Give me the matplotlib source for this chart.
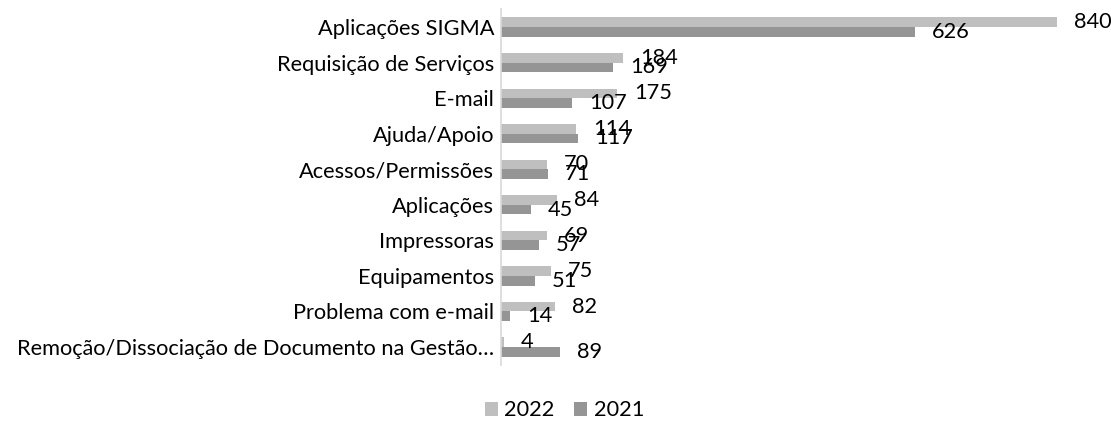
import matplotlib
matplotlib.use('Agg')
import matplotlib.pyplot as plt
import numpy as np

plt.rcParams['font.family'] = ['Lato', 'DejaVu Sans']

categories = ['Aplicações SIGMA', 'Requisição de Serviços', 'E-mail', 'Ajuda/Apoio',
              'Acessos/Permissões', 'Aplicações', 'Impressoras', 'Equipamentos',
              'Problema com e-mail', 'Remoção/Dissociação de Documento na Gestão…']
values2022 = [840, 184, 175, 114, 70, 84, 69, 75, 82, 4]
values2021 = [626, 169, 107, 117, 71, 45, 57, 51, 14, 89]
series = ['2022', '2021']

color2022 = '#BFBFBF'
color2021 = '#959595'
fs = 15.7

fig = plt.figure(figsize=(11.11, 4.23), dpi=100)
ax = fig.add_axes([0.451, 0.1376, 0.5, 0.8406])

y = np.arange(len(categories))
h = 0.27
b1 = ax.barh(y - h/2, values2022, height=h, color=color2022, label=series[0])
b2 = ax.barh(y + h/2, values2021, height=h, color=color2021, label=series[1])

# data labels sit right of the bar end, like the spreadsheet does (they overlap there too)
for bars, vals in ((b1, values2022), (b2, values2021)):
    for bar, v in zip(bars, vals):
        ax.annotate(str(v), (bar.get_width(), bar.get_y() + bar.get_height()/2),
                    xytext=(17, 0), textcoords='offset pixels',
                    ha='left', va='center', fontsize=fs, color='#000000',
                    annotation_clip=False)

ax.set_xlim(0, 840)
ax.set_ylim(len(categories) - 0.5, -0.5)
ax.set_yticks(y)
ax.set_yticklabels(categories, fontsize=fs)
ax.tick_params(axis='y', length=0, pad=5)
ax.set_xticks([])
for s in ['top', 'right', 'bottom']:
    ax.spines[s].set_visible(False)
ax.spines['left'].set_color('#D9D9D9')
ax.spines['left'].set_linewidth(1.2)

fig.legend(handles=[b1, b2], labels=series, loc='center', bbox_to_anchor=(0.508, 0.03),
           ncol=2, frameon=False, fontsize=fs, handlelength=0.6, handleheight=0.6,
           handletextpad=0.3, columnspacing=0.9, borderpad=0.1)

fig.savefig('out.png', dpi=100)
